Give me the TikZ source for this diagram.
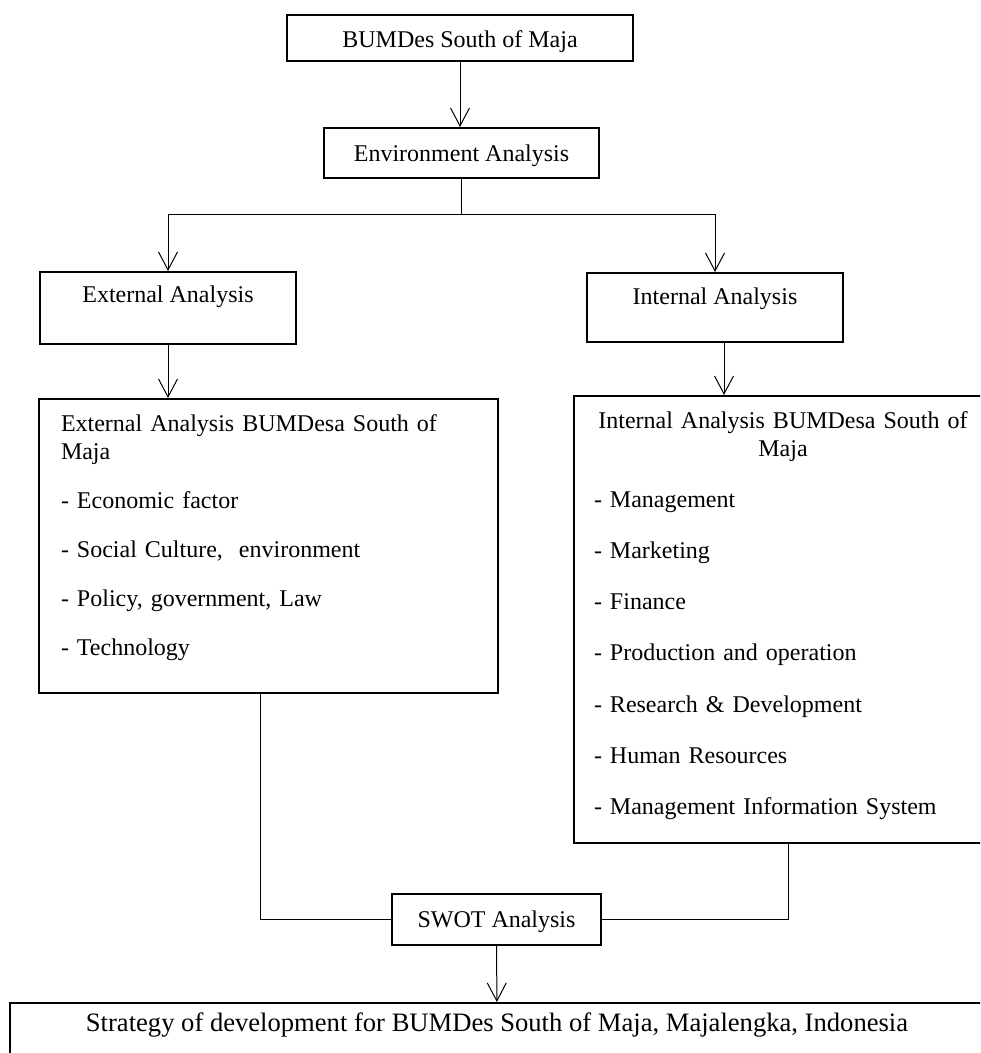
\documentclass[tikz,border=0pt]{standalone}
\usepackage{fontspec}
\setmainfont{Liberation Serif}
\usetikzlibrary{arrows.meta,positioning}

\begin{document}
\begin{tikzpicture}[x=0.5pt, y=-0.5pt, font=\fontsize{12}{14}\selectfont,
        box/.style = {rectangle, draw, line width=1pt, inner xsep=0pt, inner ysep=0pt},
        listbox/.style = {box, anchor=north west, align=left},
        arr/.style = {-{Straight Barb[length=9pt, width=9.5pt]}, line width=0.5pt},
        wire/.style = {line width=0.5pt}]
    \path [use as bounding box, clip] (0,0) rectangle (980,1053);
    \node [box, minimum width=173pt, text height=16.5pt, text depth=6.5pt] (maja) at (460,38) {BUMDes South of Maja};
    \node [box, minimum width=137.5pt, text height=17pt, text depth=8pt] (env) at (461.5,153) {Environment Analysis};
    \node [box, minimum width=128pt, text height=15.5pt, text depth=20.5pt] (ext) at (168,308) {External Analysis};
    \node [box, minimum width=128pt, text height=16pt, text depth=18.5pt] (int) at (715,307.5) {Internal Analysis};
    \node [listbox, inner xsep=11pt, text width=207.5pt, text height=16pt, text depth=131pt] (extbig) at (38,398) {%
        External Analysis BUMDesa South of\\
        Maja\\[10.5pt]
        - Economic factor\\[10.5pt]
        - Social Culture,\ \ environment\\[10.5pt]
        - Policy, government, Law\\[10.5pt]
        - Technology};
    \node [listbox, inner xsep=10pt, text width=189pt, text height=16pt, text depth=207.5pt] (intbig) at (573,395) {%
        \hfill Internal Analysis BUMDesa South of\hfill\null\\
        \hfill Maja\hfill\null\\[11.6pt]
        - Management\\[11.6pt]
        - Marketing\\[11.6pt]
        - Finance\\[11.6pt]
        - Production and operation\\[11.6pt]
        - Research \& Development\\[11.6pt]
        - Human Resources\\[11.6pt]
        - Management Information System};
    \node [box, minimum width=104.5pt, text height=16.5pt, text depth=9pt] (swot) at (496.5,919.5) {SWOT Analysis};
    \node [box, anchor=north west, minimum width=487pt, text height=14pt, text depth=20pt,
        font=\fontsize{13.3}{16}\selectfont] (final) at (9,1002) {Strategy of development for BUMDes South of Maja, Majalengka, Indonesia};

    % connectors
    \coordinate (split) at ([yshift=-18pt]env.south);
    \draw [arr] (maja) -- (maja |- env.north);
    \draw [wire] (env) -- (split);
    \draw [arr] (split) -| (ext);
    \draw [arr] (split) -| (int);
    \draw [arr] (ext) -- (ext |- extbig.north);
    \draw [arr] ([xshift=4.5pt]int.south) -- ([xshift=4.5pt]int.south |- intbig.north);
    \draw [wire] ([xshift=-4.25pt]extbig.south) |- (swot);
    \draw [wire] ([xshift=2.5pt]intbig.south) |- (swot);
    \draw [arr] (swot) -- (final);
\end{tikzpicture}
\end{document}
